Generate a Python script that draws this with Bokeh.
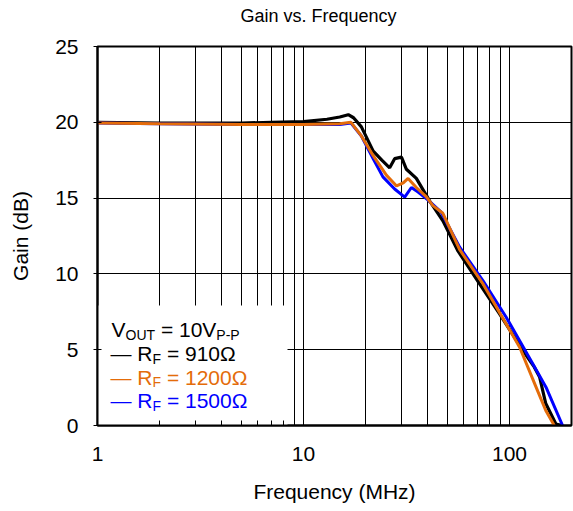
import math
from bokeh.plotting import figure
from bokeh.models import FixedTicker, Range1d, ColumnDataSource, CustomJSTickFormatter, Title
from bokeh.core.properties import value
from bokeh.embed import file_html
from bokeh.resources import INLINE

# ---- data ----
freq_910 = [1, 2, 3, 5, 7, 10, 13, 15, 16.5, 17.5, 19.1, 21.8, 24, 26.2, 27.7, 29.9, 31.6,
            35.3, 41, 47.5, 56.3, 71.6, 89.5, 116, 132, 140, 150, 168, 180]
gain_910 = [20.0, 19.95, 19.95, 19.95, 20.0, 20.05, 20.2, 20.35, 20.5, 20.3, 19.7, 18.1, 17.5,
            17.0, 17.6, 17.7, 16.9, 16.3, 14.8, 13.5, 11.5, 9.35, 7.37, 4.95, 3.85, 3.2, 1.45, 0.1, 0.0]

freq_1200 = [1, 2, 5, 10, 15, 17, 19.1, 21.8, 25.3, 28.3, 30.5, 32.2, 35.3, 39.4, 42.5, 47.5,
             57.3, 74.3, 96.4, 112, 134.6, 150, 165]
gain_1200 = [19.95, 19.9, 19.85, 19.85, 19.9, 20.0, 19.1, 17.8, 16.5, 15.8, 16.0, 16.3, 15.7,
             15.1, 14.5, 14.0, 11.6, 9.35, 6.7, 5.16, 2.53, 0.99, 0.0]

freq_1500 = [1, 2, 5, 10, 15, 17, 19.1, 21.8, 24.3, 27.7, 31.0, 33.4, 36, 40, 46.6, 57.3, 74.3,
             96.4, 129.7, 150.4, 181]
gain_1500 = [19.95, 19.9, 19.85, 19.85, 19.85, 19.95, 19.1, 17.6, 16.4, 15.6, 15.06, 15.7, 15.4,
             14.9, 14.07, 11.76, 9.56, 7.14, 4.07, 2.53, 0.0]

x_major = [1, 10, 100]
x_minor = [2, 3, 4, 5, 6, 7, 8, 9, 20, 30, 40, 50, 60, 70, 80, 90, 200]
y_ticks = [0, 5, 10, 15, 20, 25]
x_lo, x_hi = 1, 200
y_lo, y_hi = 0, 25
title_text = "Gain vs. Frequency"

FONT = "Liberation Sans"
BLACK = "#000000"
ORANGE = "#E46C0A"
BLUE = "#0000FF"

# ---- layout (canvas pixels) ----
W, H = 573, 511
FL, FR, FT, FB = 97, 571, 46, 425   # frame edges

def fx(px):
    return 10 ** (math.log10(x_hi) * (px - FL) / (FR - FL))

def fy(py):
    return y_hi * (FB - py) / (FB - FT)

p = figure(width=W, height=H, x_axis_type="log",
           x_range=Range1d(x_lo, x_hi), y_range=Range1d(y_lo, y_hi),
           output_backend="svg", toolbar_location=None,
           min_border_left=FL, min_border_right=W - FR,
           min_border_top=FT, min_border_bottom=H - FB,
           title=title_text)

p.title.text_font = FONT
p.title.text_font_size = "18px"
p.title.text_font_style = "normal"
p.title.text_color = "black"
p.title.align = "left"
p.title.offset = 143
p.title.vertical_align = "bottom"
p.title.standoff = 4

# blank spacer between the frame and the title, to lift the title
p.add_layout(Title(text=" ", text_font_size="2px", standoff=15, align="left"), "above")

p.outline_line_color = "black"
p.outline_line_width = 2
p.background_fill_color = "white"
p.border_fill_color = "white"

# axes
xa = p.xaxis[0]
xa.ticker = FixedTicker(ticks=x_major, minor_ticks=x_minor)
xa.formatter = CustomJSTickFormatter(code="return tick.toString();")
xa.axis_label = "Frequency (MHz)"
ya = p.yaxis[0]
ya.ticker = FixedTicker(ticks=y_ticks, minor_ticks=[])
ya.axis_label = "Gain (dB)"

for ax in (xa, ya):
    ax.axis_line_color = "black"
    ax.axis_line_width = 2
    ax.major_label_text_font = FONT
    ax.major_label_text_font_size = "21px"
    ax.major_label_text_color = "black"
    ax.axis_label_text_font = FONT
    ax.axis_label_text_font_size = "21px"
    ax.axis_label_text_font_style = "normal"
    ax.axis_label_text_color = "black"
    ax.major_tick_line_color = "black"
    ax.minor_tick_line_color = "black"

xa.major_tick_in = 5
xa.major_tick_out = 0
xa.minor_tick_in = 5
xa.minor_tick_out = 0
xa.major_label_standoff = 21
xa.axis_label_standoff = 16

ya.major_tick_in = 4
ya.major_tick_out = 4
ya.minor_tick_in = 0
ya.minor_tick_out = 0
ya.major_label_standoff = 15
ya.axis_label_standoff = 20

p.xgrid.grid_line_color = "black"
p.xgrid.grid_line_width = 1
p.xgrid.minor_grid_line_color = "black"
p.xgrid.minor_grid_line_width = 1
p.ygrid.grid_line_color = "black"
p.ygrid.grid_line_width = 1

# white legend box covering the grid
p.quad(left=[x_lo], right=[fx(287)], bottom=[y_lo], top=[fy(305)],
       fill_color="white", line_color=None)

# curves
p.line(freq_910, gain_910, line_color=BLACK, line_width=3.2)
p.line(freq_1500, gain_1500, line_color=BLUE, line_width=3)
p.line(freq_1200, gain_1200, line_color=ORANGE, line_width=3)

# legend text with subscripts
NB = "\u00a0"
CW = {"V": .667, "O": .778, "U": .722, "T": .611, NB: .278, " ": .278, "=": .584, "0": .556,
      "1": .556, "2": .556, "5": .556, "9": .556, "P": .667, "-": .333, "R": .722, "F": .611,
      "\u03a9": .768, "\u2014": 1.0}

def tw(s, size):
    return sum(CW.get(c, .556) for c in s) * size

BIG, SMALL = 21, 14
legend_lines = [
    ([("V", 0), ("OUT", 1), (NB + "=" + NB + "10V", 0), ("P-P", 1)], 111, 329, BLACK),
    ([("\u2014" + NB + "R", 0), ("F", 1), (NB + "=" + NB + "910\u03a9", 0)], 110, 353, BLACK),
    ([("\u2014" + NB + "R", 0), ("F", 1), (NB + "=" + NB + "1200\u03a9", 0)], 110, 376.5, ORANGE),
    ([("\u2014" + NB + "R", 0), ("F", 1), (NB + "=" + NB + "1500\u03a9", 0)], 110, 400, BLUE),
]
tx, ty, tt, tc, ts = [], [], [], [], []
for pieces, x0, base, col in legend_lines:
    cx = x0
    for s, sub in pieces:
        size = SMALL if sub else BIG
        tx.append(fx(cx))
        ty.append(fy(base + (5 if sub else 0)))
        tt.append(s)
        tc.append(col)
        ts.append(f"{size}px")
        cx += tw(s, size)

src = ColumnDataSource(dict(x=tx, y=ty, text=tt, color=tc, size=ts))
p.text(x="x", y="y", text="text", source=src, text_color="color", text_font_size="size",
       text_font=value(FONT), text_align="left", text_baseline="alphabetic")

open("out.html", "w").write(file_html(p, INLINE))
